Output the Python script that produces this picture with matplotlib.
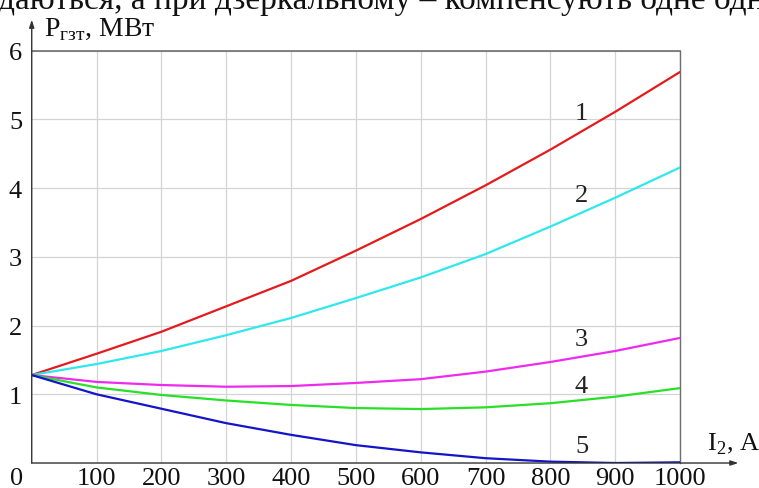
import matplotlib
matplotlib.use("Agg")
import matplotlib.pyplot as plt

plt.rcParams['font.family'] = ['Liberation Serif', 'DejaVu Serif']
plt.rcParams['mathtext.fontset'] = 'custom'
plt.rcParams['mathtext.rm'] = 'Liberation Serif'

# current I2, A
current = [0, 100, 200, 300, 400, 500, 600, 700, 800, 900, 1000]

# power P_gzt, MW
p1 = [1.28, 1.59, 1.91, 2.28, 2.65, 3.09, 3.55, 4.04, 4.56, 5.11, 5.69]
p2 = [1.28, 1.44, 1.63, 1.86, 2.11, 2.40, 2.70, 3.04, 3.44, 3.86, 4.30]
p3 = [1.28, 1.18, 1.135, 1.11, 1.12, 1.165, 1.22, 1.33, 1.47, 1.63, 1.82]
p4 = [1.28, 1.10, 0.99, 0.91, 0.845, 0.80, 0.785, 0.81, 0.87, 0.965, 1.09]
p5 = [1.28, 1.00, 0.79, 0.58, 0.41, 0.26, 0.155, 0.07, 0.02, 0.0, 0.01]

series = [p1, p2, p3, p4, p5]
colors = ['#e41a1c', '#2ee8ee', '#ee2aee', '#28e028', '#1414c8']
curve_names = ['1', '2', '3', '4', '5']
name_x = 848
name_y = [5.10, 3.90, 1.80, 1.12, 0.25]

x_ticks = [100, 200, 300, 400, 500, 600, 700, 800, 900, 1000]
y_ticks = [1, 2, 3, 4, 5, 6]

fig = plt.figure(figsize=(7.59, 4.89), dpi=100)
ax = fig.add_axes([0.0418, 0.0511, 0.8541, 0.8432])

for vals, col in zip(series, colors):
    ax.plot(current, vals, color=col, lw=1.6, solid_capstyle='round', zorder=3)

for name, yy in zip(curve_names, name_y):
    ax.text(name_x, yy, name, fontsize=19, ha='center', va='center', color='#222222')

ax.set_xlim(0, 1000)
ax.set_ylim(0, 6)
ax.set_xticks(x_ticks)
ax.set_yticks(y_ticks)
ax.tick_params(length=0, labelsize=19, colors='#111111')
ax.tick_params(axis='x', pad=3)
ax.tick_params(axis='y', pad=7)
ax.grid(True, color='#d4d4d4', lw=0.9)
ax.set_axisbelow(True)

for s in ['left', 'bottom']:
    ax.spines[s].set_visible(False)
ax.spines['top'].set_color('#6e6e6e')
ax.spines['right'].set_color('#6e6e6e')
ax.spines['top'].set_linewidth(1.2)
ax.spines['right'].set_linewidth(1.0)

# axis arrows
arrow = dict(arrowstyle='-|>,head_length=0.45,head_width=0.15', color='#333333', lw=1.0,
             shrinkA=0, shrinkB=0)
ax.annotate('', xy=(0, 1.075), xytext=(0, 0), xycoords='axes fraction',
            textcoords='axes fraction', arrowprops=arrow, annotation_clip=False)
ax.annotate('', xy=(1.09, 0), xytext=(0, 0), xycoords='axes fraction',
            textcoords='axes fraction', arrowprops=arrow, annotation_clip=False)

# corner zero and axis titles
ax.text(-0.024, -0.037, '0', transform=ax.transAxes, fontsize=19, ha='center', va='center',
        color='#111111')
fig.text(44 / 759, 1 - 36 / 489, r'P$_\mathrm{гзт}$, МВт', fontsize=20, ha='left',
         va='baseline', color='#111111')
fig.text(707 / 759, 1 - 451 / 489, r'I$_\mathrm{2}$, A', fontsize=19, ha='left',
         va='baseline', color='#111111')

# cropped line of page text above the chart
fig.text(-0.002, 1 - 9 / 489, 'даються, а при дзеркальному – компенсують одне одному',
         fontsize=24, ha='left', va='baseline', color='#111111')

fig.savefig('out.png', dpi=100, facecolor='white')
